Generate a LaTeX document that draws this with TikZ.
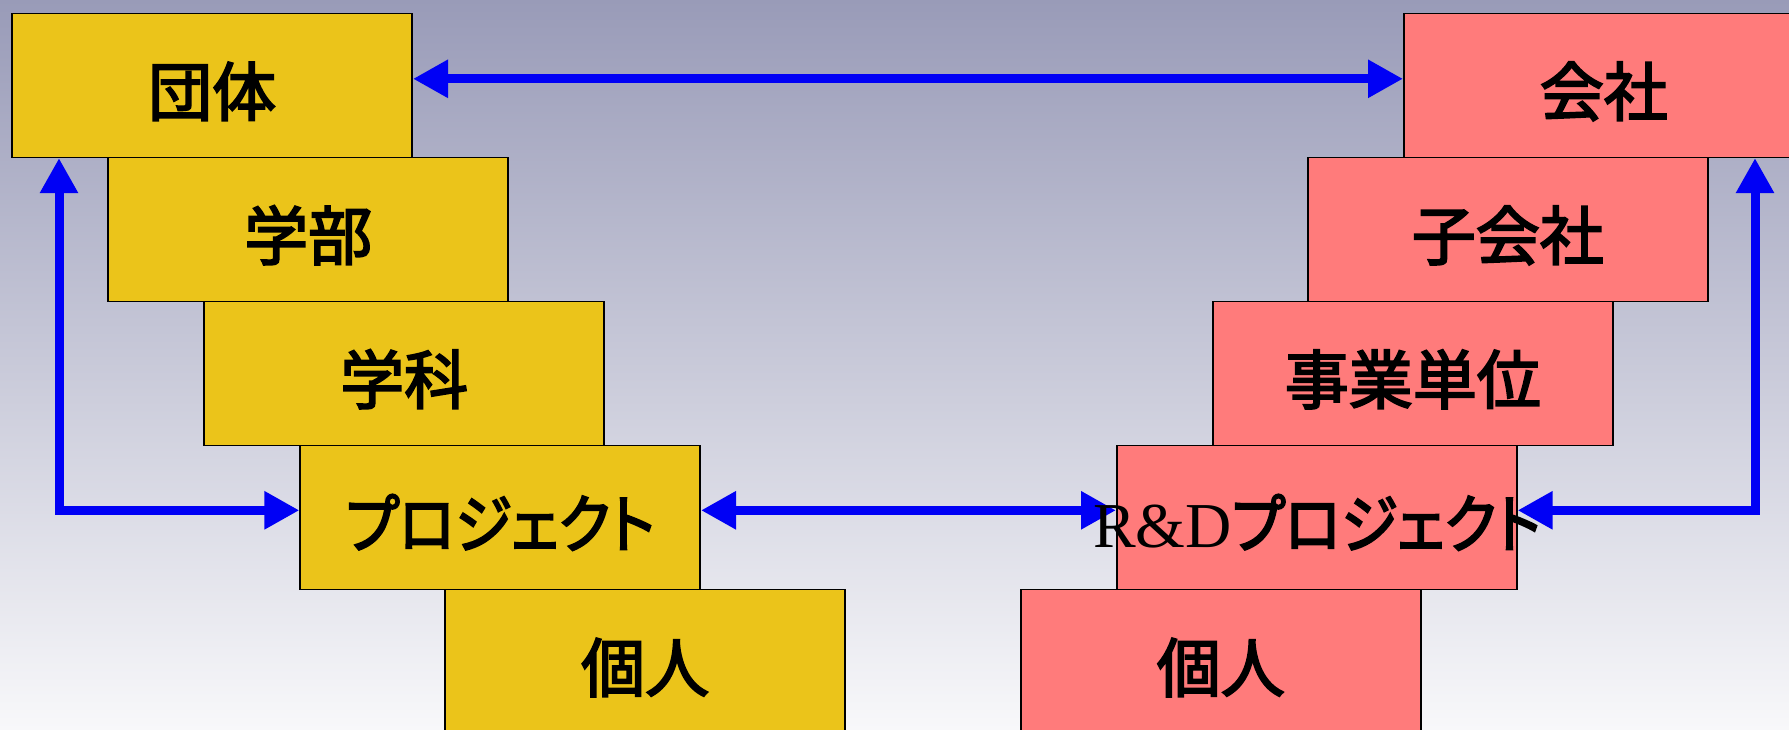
\documentclass[tikz,border=0pt]{standalone}
\usepackage{fontspec}
\newfontfamily\jp{Noto Sans CJK JP}[RawFeature=+palt, FakeBold=3]
\newfontfamily\kana{Noto Sans CJK JP}[RawFeature=+palt, FakeBold=3, FakeStretch=0.9]
\newfontfamily\lat{Liberation Serif}
\usetikzlibrary{arrows.meta}
\definecolor{boxyellow}{RGB}{235,196,26}
\definecolor{boxpink}{RGB}{255,123,123}
\definecolor{arrowblue}{RGB}{0,0,245}
\definecolor{bgtop}{RGB}{153,155,184}
\definecolor{bgbottom}{RGB}{248,248,250}
\pgfdeclarelayer{bg}
\pgfsetlayers{bg,main}
\tikzset{
  levelbox/.style={draw=black, line width=1.6pt, minimum width=400pt, minimum height=144pt,
    inner sep=0pt, anchor=north west, font=\jp\fontsize{64}{64}\selectfont,
    text height=60.6pt, text depth=0pt},
  ybox/.style={levelbox, fill=boxyellow},
  pbox/.style={levelbox, fill=boxpink},
  biarrow/.style={draw=arrowblue, line width=9pt,
    {Triangle[length=35pt,width=36pt]}-{Triangle[length=35pt,width=36pt]}}
}
\begin{document}
\begin{tikzpicture}[x=1pt,y=-1pt]
\useasboundingbox (0,0) rectangle (1789,729);
% left column
\node[ybox] (dantai) at (11.4,12.5) {団体};
\node[ybox] (gakubu) at (107.4,156.5) {学部};
\node[ybox] (gakka) at (203.4,300.5) {学科};
\node[ybox] (proj) at (299.4,444.5) {{\kana プロジェクト}};
\node[ybox] (kojinL) at (444.4,588.5) {個人};
% right column
\node[pbox] (kaisha) at (1403,12.5) {会社};
\node[pbox] (kogaisha) at (1307,156.5) {子会社};
\node[pbox] (jigyo) at (1212,300.5) {事業単位};
\node[pbox] (rd) at (1116,444.5) {\makebox[0pt][c]{{\lat R\&D}{\kana プロジェクト}}};
\node[pbox] (kojinR) at (1020,588.5) {個人};
\begin{pgfonlayer}{bg}
  \shade[top color=bgtop, bottom color=bgbottom] (0,0) rectangle (1789,729);
  \draw[biarrow] ([yshift=6.5pt]dantai.east) -- ([yshift=6.5pt]kaisha.west);
  \draw[biarrow] ([yshift=7pt]proj.east) -- ([yshift=7pt]rd.west);
  \draw[biarrow] ([xshift=47.6pt]dantai.south west) |- ([yshift=7pt]proj.west);
  \draw[biarrow] ([xshift=352pt]kaisha.south west) |- ([yshift=7pt]rd.east);
\end{pgfonlayer}
\end{tikzpicture}
\end{document}
